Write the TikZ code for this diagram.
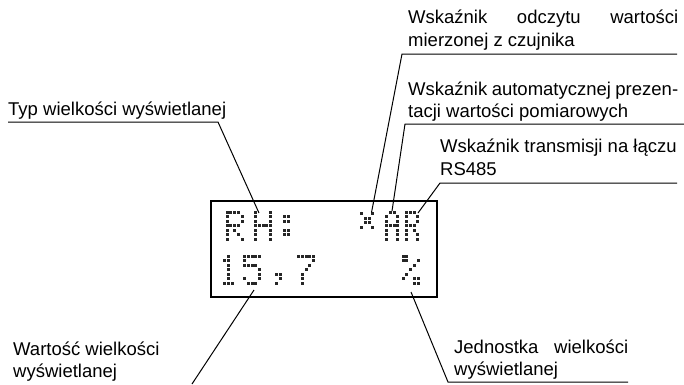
\documentclass[tikz,border=0pt]{standalone}
\usepackage{fontspec}
\setmainfont{Liberation Sans}

% dot pitch and dot size of the LCD character cells
\def\dpx{3.8}
\def\dpy{4.5}
\def\dsz{3.0}

% \lcdglyph{x}{y}{{row0 bits},{row1 bits},...}: top-left corner at (x,y)
\newcommand\lcdglyph[3]{%
  \foreach \rowbits [count=\gr from 0] in {#3}{%
    \foreach \bitv [count=\gc from 0] in \rowbits{%
      \ifnum\bitv=1
        \fill[lcddot] ({#1+\gc*\dpx},{#2+\gr*\dpy}) rectangle ++(\dsz,\dsz);
      \fi
    }%
  }%
}

\begin{document}
\begin{tikzpicture}[x=1pt,y=-1pt,
  label/.style={font=\fontsize{18.5}{22}\selectfont, inner sep=0pt, anchor=base west},
  leader/.style={line width=1pt},
  lcdframe/.style={draw, line width=1.4pt, minimum width=226pt, minimum height=96pt, inner sep=0pt},
  lcddot/.style={fill=black!85}]
\useasboundingbox (0,0) rectangle (684,384);

% display frame
\node[lcdframe] (lcd) at (324,249) {};

% first display row: "RH:"  and the status indicators
\lcdglyph{225.5}{210.5}{{1,1,1,1,0},{1,0,0,0,1},{1,0,0,0,1},{1,1,1,1,0},{1,0,1,0,0},{1,0,0,1,0},{1,0,0,0,1}}
\lcdglyph{254}{210.5}{{1,0,0,0,1},{1,0,0,0,1},{1,0,0,0,1},{1,1,1,1,1},{1,0,0,0,1},{1,0,0,0,1},{1,0,0,0,1}}
\lcdglyph{279}{210.5}{{0,0,0,0,0},{0,1,1,0,0},{0,1,1,0,0},{0,0,0,0,0},{0,1,1,0,0},{0,1,1,0,0},{0,0,0,0,0}}
\lcdglyph{360}{212}{{1,0,0,1},{0,1,1,0},{0,1,1,0},{1,0,0,1}}
\lcdglyph{385}{210.5}{{0,1,1,0},{1,0,0,1},{1,0,0,1},{1,1,1,1},{1,0,0,1},{1,0,0,1},{1,0,0,1}}
\lcdglyph{405}{210.5}{{1,1,1,0},{1,0,0,1},{1,0,0,1},{1,1,1,0},{1,0,1,0},{1,0,0,1},{1,0,0,1}}

% second display row: "15,7" and "%"
\lcdglyph{219.2}{254.5}{{0,0,1,0,0},{0,1,1,0,0},{0,0,1,0,0},{0,0,1,0,0},{0,0,1,0,0},{0,0,1,0,0},{0,1,1,1,0}}
\lcdglyph{243}{254.5}{{1,1,1,1,1},{1,0,0,0,0},{1,1,1,1,0},{0,0,0,0,1},{0,0,0,0,1},{1,0,0,0,1},{0,1,1,1,0}}
\lcdglyph{271.2}{254.5}{{0,0,0,0,0},{0,0,0,0,0},{0,0,0,0,0},{0,0,0,0,0},{0,1,1,0,0},{0,0,1,0,0},{0,1,0,0,0}}
\lcdglyph{297}{254.5}{{1,1,1,1,1},{0,0,0,0,1},{0,0,0,1,0},{0,0,1,0,0},{0,1,0,0,0},{0,1,0,0,0},{0,1,0,0,0}}
\lcdglyph{401.5}{254.5}{{1,1,0,0,0},{1,1,0,0,1},{0,0,0,1,0},{0,0,1,0,0},{0,1,0,0,0},{1,0,0,1,1},{0,0,0,1,1}}

% label: quantity type
\node[label] (typ) at (8,115) {Typ wielkości wyświetlanej};
\coordinate (typL) at (8,122);
\coordinate (typR) at (218,122);
\coordinate (typT) at (259,213);
\draw[leader] (typL) -- (typR) -- (typT);

% label: sensor reading indicator
\node[label] (odc1) at (408,23) {\makebox[270pt][s]{Wskaźnik odczytu wartości}};
\node[label] (odc2) at (408,46.5) {mierzonej z czujnika};
\coordinate (odcR) at (677,54);
\coordinate (odcL) at (402,54);
\coordinate (odcT) at (371.5,212.5);
\draw[leader] (odcR) -- (odcL) -- (odcT);

% label: automatic presentation indicator
\node[label] (aut1) at (408,95) {\makebox[270pt][s]{Wskaźnik automatycznej prezen-}};
\node[label] (aut2) at (408,117) {tacji wartości pomiarowych};
\coordinate (autR) at (684,124);
\coordinate (autL) at (405,124);
\coordinate (autT) at (392,211);
\draw[leader] (autR) -- (autL) -- (autT);

% label: RS485 transmission indicator
\node[label] (rs1) at (440,152.5) {Wskaźnik transmisji na łączu};
\node[label] (rs2) at (440,175) {RS485};
\coordinate (rsR) at (677,183);
\coordinate (rsL) at (440,183);
\coordinate (rsT) at (418,213);
\draw[leader] (rsR) -- (rsL) -- (rsT);

% label: displayed value
\node[label] (war1) at (13,355) {Wartość wielkości};
\node[label] (war2) at (13,377) {wyświetlanej};
\coordinate (warT) at (254,290);
\coordinate (warB) at (192,384);
\draw[leader] (warT) -- (warB);

% label: unit
\node[label] (jed1) at (454,353) {\makebox[174pt][s]{Jednostka wielkości}};
\node[label] (jed2) at (454,375) {wyświetlanej};
\coordinate (jedT) at (411,292);
\coordinate (jedL) at (448,382);
\coordinate (jedR) at (628,382);
\draw[leader] (jedT) -- (jedL) -- (jedR);
\end{tikzpicture}
\end{document}
